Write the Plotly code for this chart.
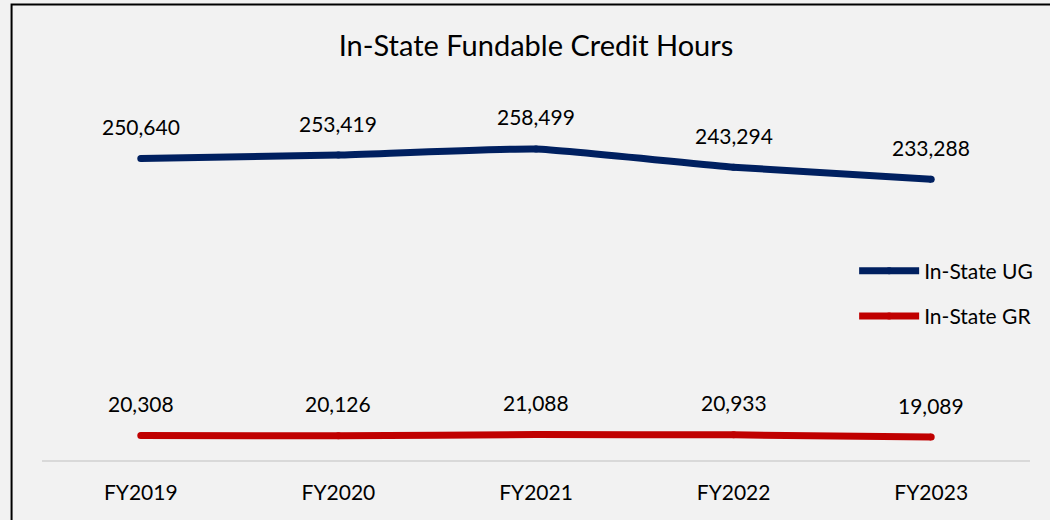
import plotly.graph_objects as go

categories = ["FY2019", "FY2020", "FY2021", "FY2022", "FY2023"]
ug_values = [250640, 253419, 258499, 243294, 233288]
gr_values = [20308, 20126, 21088, 20933, 19089]
series_names = ["In-State UG", "In-State GR"]

FONT = "Lato, Calibri, Carlito, sans-serif"
colors = ["#002060", "#C00000"]

fig = go.Figure()
for i, (name, vals) in enumerate(zip(series_names, [ug_values, gr_values])):
    fig.add_trace(go.Scatter(
        x=categories, y=vals, name=name, mode="lines+markers",
        line=dict(color=colors[i], width=7, shape="spline", smoothing=0.4),
        marker=dict(color=colors[i], size=7),
        legendgroup=f"g{i}", cliponaxis=False,
    ))
    for c, v in zip(categories, vals):
        fig.add_annotation(x=c, y=v, text=f"{v:,}", showarrow=False,
                           yshift=32, font=dict(family=FONT, size=21, color="#000000"))

# outer chart border (top/left visible, right/bottom run off the page)
fig.add_shape(type="rect", xref="paper", yref="paper",
              x0=-0.0308, x1=1.1, y0=-0.4, y1=1.2618,
              line=dict(color="#000000", width=2), layer="below")

fig.update_layout(
    width=1050, height=520,
    paper_bgcolor="#f2f2f2", plot_bgcolor="#f2f2f2",
    margin=dict(l=42, r=18, t=99, b=60),
    title=dict(text="In-State Fundable Credit Hours", x=0.5, xref="paper",
               y=1 - 46 / 520, yref="container", yanchor="middle",
               font=dict(family=FONT, size=29, color="#000000")),
    font=dict(family=FONT, size=21, color="#000000"),
    showlegend=True,
    legend=dict(x=0.822, y=0.58, xanchor="left", yanchor="top",
                bgcolor="rgba(0,0,0,0)", itemwidth=60, tracegroupgap=15,
                font=dict(family=FONT, size=21, color="#000000")),
    xaxis=dict(showgrid=False, showline=True, linecolor="#d9d9d9", linewidth=2,
               ticks="", range=[-0.5, 4.5], ticklabelstandoff=13,
               tickfont=dict(family=FONT, size=21, color="#000000"),
               zeroline=False),
    yaxis=dict(range=[0, 300000], visible=False, showgrid=False, zeroline=False),
)

fig.write_html("out.html", config={"displayModeBar": False},
               post_script="document.body.style.margin='0px';document.body.style.background='#f2f2f2';")
